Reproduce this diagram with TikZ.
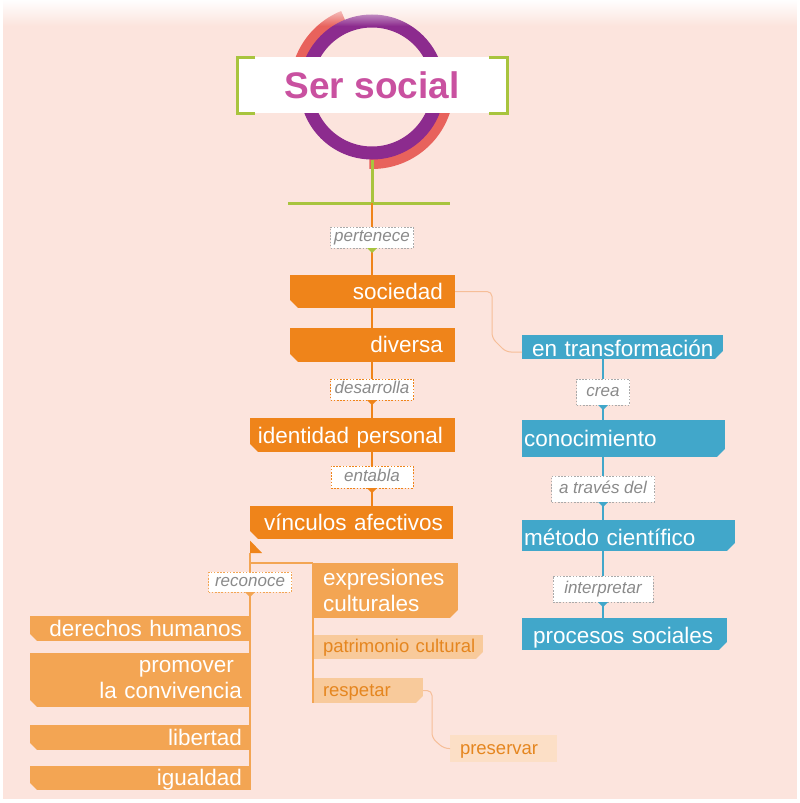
\documentclass[tikz,border=0pt]{standalone}
\usepackage{fontspec}
\setmainfont{Liberation Sans}
\usetikzlibrary{fadings}
\setlength{\parindent}{0pt}
\tikzfading[name=topfade, top color=transparent!0, bottom color=transparent!100]
\definecolor{bgpink}{HTML}{FCE4DD}
\definecolor{odark}{HTML}{EF841A}
\definecolor{olight}{HTML}{F3A553}
\definecolor{opale}{HTML}{F8CA9B}
\definecolor{opaler}{HTML}{FCDFC6}
\definecolor{otext}{HTML}{E5861F}
\definecolor{blu}{HTML}{41A7CA}
\definecolor{purp}{HTML}{8C2B8E}
\definecolor{coral}{HTML}{E8625C}
\definecolor{magt}{HTML}{C951A0}
\definecolor{lime}{HTML}{A8C43E}
\definecolor{lblgray}{HTML}{8A8A8A}
\definecolor{lblborder}{HTML}{AAAAAA}
\definecolor{thinline}{HTML}{F6BE98}
\newcommand\tri[2]{\fill[#1] ([xshift=-5pt]#2.south) -- ([xshift=5pt]#2.south) -- ([yshift=-5pt]#2.south) -- cycle;}
\tikzset{
  box/.style={anchor=north west, inner xsep=0pt, inner ysep=0pt, outer sep=0pt, text=white,
    font=\fontsize{22.5}{26}\selectfont, text height=18.5pt, text depth=3pt},
  boxml/.style={anchor=north west, inner xsep=0pt, inner ysep=0pt, outer sep=0pt, text=white,
    font=\fontsize{22.5}{26}\selectfont},
  smallbox/.style={box, text=otext, font=\fontsize{18.5}{21}\selectfont, text height=14.5pt, text depth=3pt},
  chamSW/.style={path picture={\fill[bgpink] (path picture bounding box.south west) -- ++(#1pt,0pt) -- ++(-#1pt,#1pt) -- cycle;}},
  chamSE/.style={path picture={\fill[bgpink] (path picture bounding box.south east) -- ++(-#1pt,0pt) -- ++(#1pt,#1pt) -- cycle;}},
  lbl/.style={fill=white, draw=#1, dash pattern=on 1.6pt off 1.6pt, line width=1pt, inner sep=0pt,
    outer sep=0pt, text=lblgray, font=\fontsize{17}{20}\selectfont\itshape, text height=12pt, text depth=3.5pt},
  oline/.style={draw=odark, line width=2pt},
  lline/.style={draw=olight, line width=2pt},
  bline/.style={draw=blu, line width=2pt},
  gline/.style={draw=lime, line width=3pt},
  tline/.style={draw=thinline, line width=1pt, rounded corners=5pt},
}
\begin{document}
\begin{tikzpicture}[x=1pt,y=-1pt]
\useasboundingbox (0,0) rectangle (800,803);
\fill[white] (0,0) rectangle (800,803);
\fill[bgpink] (3,0) rectangle (797,799);

% title ring
\begin{scope}[shift={(372pt,-87pt)}, x=1pt, y=1pt]
  \draw[coral, line width=12pt] (112:76) arc[start angle=112, end angle=195, radius=76];
  \draw[coral, line width=12pt] (-92:76) arc[start angle=-92, end angle=-12, radius=76];
  \draw[purp, line width=13pt] (0,0) circle[radius=66];
\end{scope}
\fill[white, path fading=topfade] (0,0) rectangle (800,26);

\node[fill=white, minimum width=270pt, minimum height=56pt, inner sep=0pt, outer sep=0pt,
  font=\fontsize{37}{40}\selectfont\bfseries, text=magt] (title) at (372,85) {Ser social\hspace{12pt}};
\draw[lime, line width=3pt] ([xshift=18pt]title.north west) -- (title.north west) -- (title.south west) -- ([xshift=18pt]title.south west);
\draw[lime, line width=3pt] ([xshift=-18pt]title.north east) -- (title.north east) -- (title.south east) -- ([xshift=-18pt]title.south east);

\coordinate (ringb) at (372,160);
\coordinate (stem) at (372,203);
\coordinate (barL) at (288,203);
\coordinate (barR) at (450,203);

% central orange column
\node[box, fill=odark, chamSW=8, text width=165pt, minimum height=33pt, align=right] (soc) at (290,275) {sociedad\kern12pt};
\node[box, fill=odark, chamSW=8, text width=165pt, minimum height=34pt, align=right] (div) at (290,328) {diversa\kern12pt};
\node[box, fill=odark, chamSW=8, text width=205pt, minimum height=34pt, align=right, text height=20pt] (iden) at (250,418) {identidad personal\kern12pt};
\node[box, fill=odark, chamSW=8, text width=203pt, minimum height=33pt, align=right] (vinc) at (250,506) {vínculos afectivos\kern10pt};

% left column
\node[box, fill=olight, chamSW=7, text width=220pt, minimum height=25pt, align=right] (der) at (30,616) {derechos humanos\kern8pt};
\node[boxml, fill=olight, chamSW=7, text width=220pt, minimum height=54pt, align=right] (prom) at (30,653) {promover\kern16pt\\la convivencia\kern8pt};
\node[box, fill=olight, chamSW=7, text width=220pt, minimum height=25pt, align=right] (lib) at (30,725) {libertad\kern8pt};
\node[box, fill=olight, chamSW=7, text width=220pt, minimum height=24pt, align=right] (igu) at (30,766) {igualdad\kern8pt};

% middle branch
\node[boxml, fill=olight, chamSE=8, text width=145pt, minimum height=55pt, align=left] (expr) at (313,563) {\hspace*{10pt}expresiones\\\hspace*{10pt}culturales};
\node[smallbox, fill=opale, chamSE=7, text width=170pt, minimum height=24pt, align=left] (pat) at (313,635) {\kern10pt patrimonio cultural};
\node[smallbox, fill=opale, chamSE=7, text width=110pt, minimum height=25pt, align=left] (res) at (313,678) {\kern10pt respetar};
\node[smallbox, fill=opaler, text width=107pt, minimum height=27pt, align=left] (pres) at (450,735) {\kern10pt preservar};

% blue column
\node[box, fill=blu, chamSE=8, text width=201pt, minimum height=24pt, align=left, text height=21pt] (entr) at (522,335) {\kern10pt en transformación};
\node[box, fill=blu, chamSE=8, text width=203pt, minimum height=37pt, align=left] (con) at (522,420) {\kern2pt conocimiento};
\node[box, fill=blu, chamSE=8, text width=213pt, minimum height=31pt, align=left, text height=22pt] (met) at (522,520) {\kern2pt método científico};
\node[box, fill=blu, chamSE=8, text width=205pt, minimum height=32pt, align=left, text height=22pt] (proc) at (522,618) {\kern11pt procesos sociales};

% link labels
\node[lbl=lblborder, minimum width=83pt, minimum height=21pt] (lp) at (372,237.5) {pertenece};
\node[lbl=odark, minimum width=83pt, minimum height=21pt] (ld) at (372,389.5) {desarrolla};
\node[lbl=odark, minimum width=82pt, minimum height=22pt] (le) at (372,477) {entabla};
\node[lbl=olight, minimum width=83pt, minimum height=20pt] (lr) at (250,582) {reconoce};
\node[lbl=lblborder, minimum width=53pt, minimum height=26pt] (lc) at (603,392) {crea};
\node[lbl=lblborder, minimum width=103pt, minimum height=26pt] (la) at (603,489) {a través del};
\node[lbl=lblborder, minimum width=100pt, minimum height=26pt] (li) at (603,589) {interpretar};

% connectors
\draw[gline] (ringb) -- (stem);
\draw[gline] (barL) -- (barR);
\draw[oline] (stem) -- (lp.north);
\draw[oline] (lp.south) -- (lp.south |- soc.north);
\draw[oline] (soc.south -| lp.south) -- (div.north -| lp.south);
\draw[oline] (div.south -| ld.north) -- (ld.north);
\draw[oline] (ld.south) -- (ld.south |- iden.north);
\draw[oline] (iden.south -| le.north) -- (le.north);
\draw[oline] (le.south) -- (le.south |- vinc.north);

\coordinate (flag) at ([yshift=-14pt]vinc.south west);
\fill[odark] ([yshift=-1.5pt]vinc.south west) -- (flag) -- ([xshift=12pt]flag) -- cycle;
\draw[lline] (flag) -- (lr.north);
\coordinate (hb) at (250,563);
\draw[lline] (hb) -- (expr.north west);
\draw[lline] (expr.north west) -- (res.south west);
\draw[lline] (lr.south) -- (lr.south |- igu.south east);
\coordinate (rj) at (432,690.5);
\draw[tline] (res.east) -- (rj) -- (432,738) -- (444,748.5) -- (pres.west);

\coordinate (tj) at (506,352);
\draw[tline] (soc.east) -- (492,291.5) -- (492,338) -- (tj) -- (tj -| entr.west);

\draw[bline] (entr.south -| lc.north) -- (lc.north);
\draw[bline] (lc.south) -- (lc.south |- con.north);
\draw[bline] (con.south -| la.north) -- (la.north);
\draw[bline] (la.south) -- (la.south |- met.north);
\draw[bline] (met.south -| li.north) -- (li.north);
\draw[bline] (li.south) -- (li.south |- proc.north);

\tri{lime}{lp}
\tri{odark}{ld}
\tri{odark}{le}
\tri{olight}{lr}
\tri{blu}{lc}
\tri{blu}{la}
\tri{blu}{li}
\end{tikzpicture}
\end{document}
